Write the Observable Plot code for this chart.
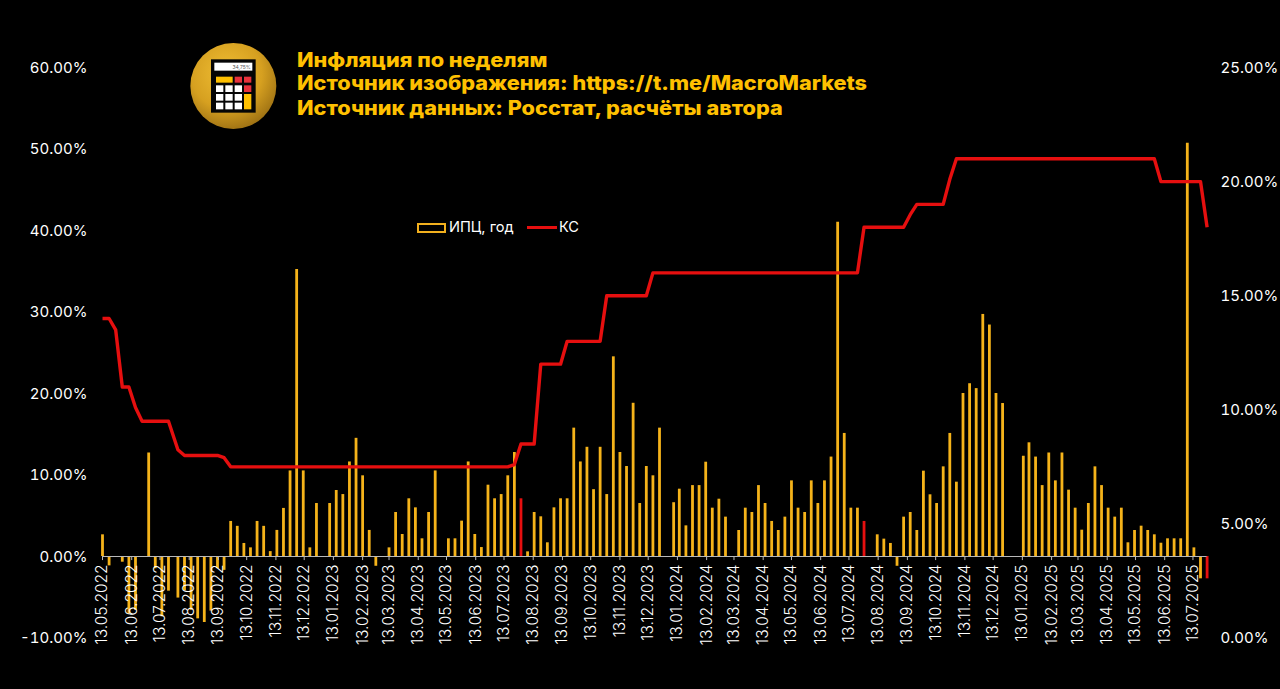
<!DOCTYPE html>
<html lang="ru">
<head>
<meta charset="utf-8">
<script src="https://cdn.jsdelivr.net/npm/d3@7"></script>
<script src="https://cdn.jsdelivr.net/npm/@observablehq/plot@0.6"></script>
<style>
html,body{margin:0;padding:0;background:#000;width:1280px;height:689px;overflow:hidden}
#stage{position:relative;width:1280px;height:689px;background:#000}
#stage svg{display:block}
#plot{position:absolute;left:0;top:0}
.title{position:absolute;left:297px;color:#FFC000;font:800 19.5px/24px Inter,sans-serif;white-space:nowrap;transform:scaleX(1.11);transform-origin:left center}
.lg{position:absolute;top:218px;color:#fff;font:400 14.6px/18px Inter,sans-serif;white-space:nowrap}
.sw{position:absolute;box-sizing:border-box}
#logo{position:absolute;left:180px;top:30px}
</style>
</head>
<body>
<div id="stage">
  <div id="plot"></div>
  <svg id="logo" width="300" height="110" viewBox="0 0 900 330">
    <defs><radialGradient id="gold" cx="42%" cy="35%" r="75%">
      <stop offset="0" stop-color="#F0BE34"/><stop offset="0.55" stop-color="#D6A020"/><stop offset="1" stop-color="#8E6410"/>
    </radialGradient></defs>
    <circle cx="160" cy="168" r="129" fill="url(#gold)"/>
    <rect x="93" y="88" width="134" height="160" fill="#050505"/>
    <rect x="103" y="98" width="114" height="24" fill="#fff"/>
    <text x="212" y="116" text-anchor="end" fill="#555" font-family="Inter" font-size="15">34,75%</text>
    <rect x="108" y="140" width="50" height="18" fill="#FFC000"/>
    <rect x="164" y="140" width="22" height="18" fill="#E8323C"/>
    <rect x="192" y="140" width="22" height="18" fill="#E8323C"/>
    <rect x="108" y="166" width="22" height="20" fill="#fff"/>
    <rect x="136" y="166" width="22" height="20" fill="#fff"/>
    <rect x="164" y="166" width="22" height="20" fill="#fff"/>
    <rect x="192" y="166" width="22" height="20" fill="#E8323C"/>
    <rect x="108" y="192" width="22" height="20" fill="#fff"/>
    <rect x="136" y="192" width="22" height="20" fill="#fff"/>
    <rect x="164" y="192" width="22" height="20" fill="#fff"/>
    <rect x="192" y="192" width="22" height="46" fill="#FFC000"/>
    <rect x="108" y="218" width="22" height="20" fill="#fff"/>
    <rect x="136" y="218" width="22" height="20" fill="#fff"/>
    <rect x="164" y="218" width="22" height="20" fill="#fff"/>
  </svg>
  <div class="title" style="top:48px">Инфляция по неделям</div>
  <div class="title" style="top:71px">Источник изображения: https://t.me/MacroMarkets</div>
  <div class="title" style="top:96px">Источник данных: Росстат, расчёты автора</div>
  <div class="sw" style="left:417px;top:223px;width:29px;height:10px;border:2px solid #F2B01E"></div>
  <div class="lg" style="left:449px">ИПЦ, год</div>
  <div class="sw" style="left:527px;top:226px;width:30px;height:3px;background:#E60F0F"></div>
  <div class="lg" style="left:559px">КС</div>
</div>
<script>
// Observation dates: Fridays in mid-2022, then Mondays with post-holiday Tuesdays
const datesA = d3.utcDay.range(new Date("2022-05-13"), new Date("2022-07-23"), 7);
const datesB = d3.utcDay.range(new Date("2022-08-01"), new Date("2023-12-26"), 7);
const datesC = [new Date("2024-01-09"), ...d3.utcDay.range(new Date("2024-01-15"), new Date("2024-12-24"), 7)];
const datesD = [new Date("2025-01-14"), ...d3.utcDay.range(new Date("2025-01-20"), new Date("2025-07-29"), 7)];
const dates = [...datesA, ...datesB, ...datesC, ...datesD];

// ИПЦ, год: weekly inflation, annualised (%)
const cpiA = [2.66,-1.15,null,-0.7,-7.1,-6.6,null,12.7,-1.5,-7.4,-4.25];
const cpiB = [-5.1,-4.2,-6.6,-7.65,-8.1,-6.7,-1.5,-1.7,4.3,3.7,1.6,1.06,4.3,3.7,0.6,3.2,5.9,10.5,35.2,10.5,1.06,6.5,null,6.5,8.1,7.6,11.6,14.5,9.9,3.2,-1.2,null,1.06,
  5.4,2.7,7.08,5.97,2.17,5.4,10.5,null,2.17,2.17,4.34,11.6,2.7,1.1,8.75,7.08,7.6,9.9,12.76,7.08,0.57,5.4,4.87,1.68,5.97,7.08,7.08,15.75,11.6,13.4,8.2,13.4,7.6,24.5,12.76,11.04,18.8,6.5,11.04,9.9,15.75];
const cpiC = [6.6,8.26,3.76,8.7,8.7,11.57,5.93,7.03,4.83,null,3.19,5.93,5.4,8.7,6.5,4.3,3.19,4.83,9.28,5.93,5.4,9.28,6.5,9.28,12.2,41,15.1,5.93,5.93,4.3,null,2.66,2.13,1.6,-1.2,4.83,5.4,3.19,10.47,7.57,6.5,11,15.1,9.12,20,21.2,20.6,29.7,28.4,20,18.77];
const cpiD = [12.3,13.95,12.2,8.7,12.7,9.28,12.7,8.14,5.93,3.23,6.5,11,8.7,5.93,4.83,5.93,1.68,3.19,3.72,3.19,2.66,1.63,2.17,2.17,2.17,50.7,1.06,-2.74,-2.74];
const cpi = [...cpiA, ...cpiB, ...cpiC, ...cpiD];

// КС: key rate (%)
const ksA = [14,14,13.5,11,11,10.1,9.5,9.5,9.5,9.5,9.5];
const ksB = [8.25,8,8,8,8,8,8,7.9,7.5,7.5,7.5,7.5,7.5,7.5,7.5,7.5,7.5,7.5,7.5,7.5,7.5,7.5,7.5,7.5,7.5,7.5,7.5,7.5,7.5,7.5,7.5,7.5,7.5,7.5,7.5,7.5,7.5,7.5,7.5,7.5,7.5,7.5,7.5,7.5,7.5,7.5,7.5,7.5,7.5,7.5,7.5,7.6,
  8.5,8.5,8.5,12,12,12,12,13,13,13,13,13,13,15,15,15,15,15,15,15,16,16];
const ksC = [16,16,16,16,16,16,16,16,16,16,16,16,16,16,16,16,16,16,16,16,16,16,16,16,16,16,16,16,16,18,18,18,18,18,18,18,18.55,19,19,19,19,19,20.1,21,21,21,21,21,21,21,21];
const ksD = [21,21,21,21,21,21,21,21,21,21,21,21,21,21,21,21,21,21,21,21,21,20,20,20,20,20,20,20,18];
const ks = [...ksA, ...ksB, ...ksC, ...ksD];

const redWeeks = ["2023-07-31","2024-07-29","2025-07-28"];
const monthTicks = d3.utcMonth.range(new Date("2022-05-01"), new Date("2025-08-01")).map(d => d3.utcDay.offset(d, 12));
const leftTicks = [-10,0,10,20,30,40,50,60];
const rightTicks = [0,5,10,15,20,25];

// The key rate has its own right-hand axis: 0…25 spans the same height as −10…60
const ksToY = v => v / 25 * 70 - 10;
const yToKs = y => (y + 10) / 70 * 25;

const rows = dates.map((date, i) => ({date, cpi: cpi[i], ks: ks[i], red: redWeeks.includes(date.toISOString().slice(0,10))}));
const bars = rows.filter(d => d.cpi !== null);
const GOLD = "#F5B31A", RED = "#E60F0F", FONT = "Inter, sans-serif";

const chart = Plot.plot({
  width: 1280, height: 689,
  marginLeft: 90, marginRight: 64, marginTop: 67, marginBottom: 51.5,
  style: {background: "#000", fontFamily: FONT},
  x: {type: "utc", domain: [new Date("2022-05-13"), new Date("2025-07-28")], range: [102, 1206.6], axis: null},
  y: {domain: [-10, 60], axis: null},
  marks: [
    Plot.ruleX(bars.filter(d => !d.red), {x: "date", y1: () => 0, y2: "cpi", stroke: GOLD, strokeWidth: 2.8}),
    Plot.ruleX(bars.filter(d => d.red), {x: "date", y1: () => 0, y2: "cpi", stroke: RED, strokeWidth: 2.8}),
    Plot.ruleY([0], {x1: new Date("2022-05-13"), x2: new Date("2025-07-28"), stroke: "#b9b9b9", strokeWidth: 1.2}),
    Plot.ruleX(monthTicks, {y1: () => 0, y2: () => -0.5, stroke: "#b9b9b9", strokeWidth: 1}),
    Plot.text(monthTicks, {x: d => d, y: () => 0, text: d => d3.utcFormat("%d.%m.%Y")(d), rotate: -90, textAnchor: "end", dy: 8, fill: "#fff", fontSize: 15.5, lineAnchor: "middle", fontWeight: 300}),
    Plot.line(rows, {x: "date", y: d => ksToY(d.ks), stroke: RED, strokeWidth: 3.4, strokeLinejoin: "round", strokeLinecap: "butt", curve: "linear"}),
    Plot.axisY({anchor: "left", ticks: leftTicks, tickSize: 0, tickPadding: 3, dy: 0.5, tickFormat: d => d.toFixed(2) + "%", fill: "#fff", fontSize: 15, label: null, fontWeight: 400}),
    Plot.axisY({anchor: "right", ticks: rightTicks.map(ksToY), tickSize: 0, tickPadding: 4, dy: 0.5, tickFormat: d => yToKs(d).toFixed(2) + "%", fill: "#fff", fontSize: 15, label: null, fontWeight: 400})
  ]
});
document.getElementById("plot").appendChild(chart);
</script>
</body>
</html>
